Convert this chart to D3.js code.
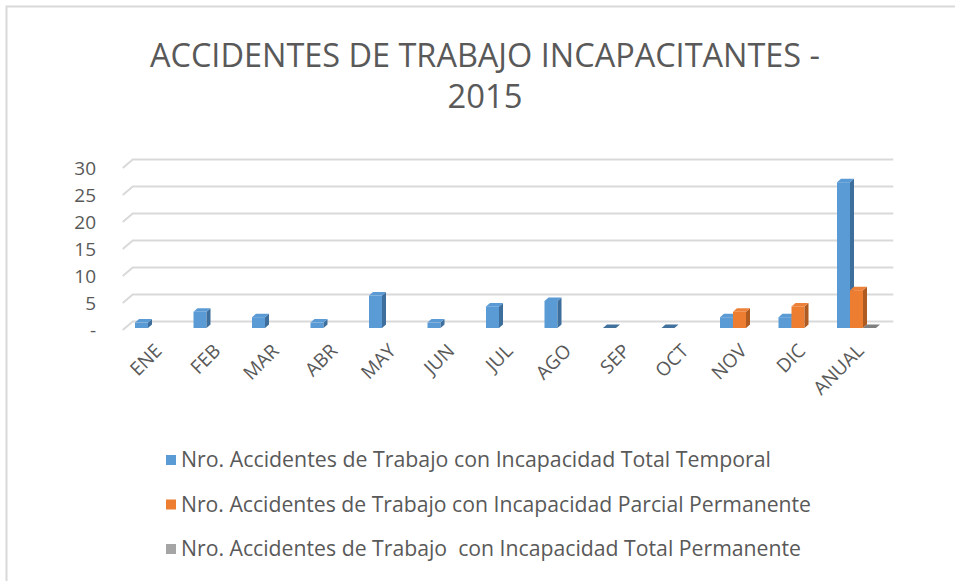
<!DOCTYPE html>
<html>
<head>
<meta charset="utf-8">
<script src="https://cdn.jsdelivr.net/npm/d3@7"></script>
<style>
  body { margin: 0; background: #fff; }
  text { font-family: "Open Sans", "Liberation Sans", sans-serif; fill: #595959; white-space: pre; }
</style>
</head>
<body>
<div id="chart"></div>
<script>
// data
const categories = ["ENE", "FEB", "MAR", "ABR", "MAY", "JUN", "JUL", "AGO", "SEP", "OCT", "NOV", "DIC", "ANUAL"];
const totalTemporal = [1, 3, 2, 1, 6, 1, 4, 5, 0, 0, 2, 2, 27];
const parcialPermanente = [null, null, null, null, null, null, null, null, null, null, 3, 4, 7];
const totalPermanente = [null, null, null, null, null, null, null, null, null, null, null, null, 0];
const seriesNames = [
  "Nro. Accidentes de Trabajo con Incapacidad Total Temporal",
  "Nro. Accidentes de Trabajo con Incapacidad Parcial Permanente",
  "Nro. Accidentes de Trabajo  con Incapacidad Total Permanente"
];
const legendWidths = [590, 630, 620];
const yTicks = [0, 5, 10, 15, 20, 25, 30];

const width = 955;
const height = 581;

// face colours: front, top, side
const colors = [
  { front: "#5B9BD5", top: "#5B9BD5", side: "#3E6E9C", flat: "#41719C" },
  { front: "#ED7D31", top: "#EE8139", side: "#AE5A21", flat: "#AE5A21" },
  { front: "#A5A5A5", top: "#A5A5A5", side: "#7A7A7A", flat: "#7F7F7F" }
];
const series = [totalTemporal, parcialPermanente, totalPermanente];

const svg = d3.select("#chart")
  .append("svg")
  .attr("width", width)
  .attr("height", height);

// chart border
svg.append("rect")
  .attr("x", 6.5).attr("y", 6.5)
  .attr("width", width).attr("height", height)
  .attr("fill", "none")
  .attr("stroke", "#d9d9d9")
  .attr("stroke-width", 2);

// title
svg.append("text")
  .attr("x", 485).attr("y", 67)
  .attr("text-anchor", "middle")
  .attr("font-size", 33)
  .attr("textLength", 670)
  .attr("lengthAdjust", "spacingAndGlyphs")
  .text("ACCIDENTES DE TRABAJO INCAPACITANTES -");
svg.append("text")
  .attr("x", 485).attr("y", 108)
  .attr("text-anchor", "middle")
  .attr("font-size", 33)
  .attr("textLength", 75)
  .attr("lengthAdjust", "spacingAndGlyphs")
  .text("2015");

// scales (front plane)
const x = d3.scaleBand().domain(categories).range([122.75, 883.25]);
const barW = 13;
const xs = d3.scaleBand().domain([0, 1, 2])
  .range([(x.bandwidth() - 3 * barW) / 2, (x.bandwidth() + 3 * barW) / 2]);
const y = d3.scaleLinear().domain([0, 30]).range([330, 168]);

// 3d offsets
const wall = { dx: 10, dy: -8.5 };   // back wall
const barOff = { dx: 2.5, dy: -2 };  // bars sit a bit behind the front
const depth = { dx: 4, dy: -3.5 };   // bar depth

// gridlines: side wall diagonal + back wall line
const grid = svg.append("g")
  .attr("stroke", "#d9d9d9")
  .attr("stroke-width", 2)
  .attr("fill", "none");
yTicks.forEach(t => {
  const yf = y(t);
  const x0 = x.range()[0];
  const x1 = x.range()[1];
  grid.append("path")
    .attr("d", `M${x0},${yf}L${x0 + wall.dx},${yf + wall.dy}L${x1 + wall.dx},${yf + wall.dy}`);
});

// y axis labels
svg.append("g").selectAll("text")
  .data(yTicks)
  .join("text")
  .attr("x", 96)
  .attr("y", d => y(d))
  .attr("dy", "0.35em")
  .attr("text-anchor", "end")
  .attr("font-size", 19)
  .text(d => d === 0 ? "-" : d);

// bars
const bars = svg.append("g");
categories.forEach((c, ci) => {
  series.forEach((s, si) => {
    const v = s[ci];
    if (v === null) return;
    const col = colors[si];
    const x0 = x(c) + xs(si) + barOff.dx;
    const x1 = x0 + barW;
    const yb = y(0) + barOff.dy;
    const yt = y(v) + barOff.dy;
    const top = [[x0, yt], [x0 + depth.dx, yt + depth.dy], [x1 + depth.dx, yt + depth.dy], [x1, yt]];
    if (v === 0) {
      bars.append("polygon").attr("points", top.join(" ")).attr("fill", col.flat);
      return;
    }
    bars.append("rect")
      .attr("x", x0).attr("y", yt)
      .attr("width", barW).attr("height", yb - yt)
      .attr("fill", col.front);
    bars.append("polygon")
      .attr("points", [[x1, yt], [x1 + depth.dx, yt + depth.dy], [x1 + depth.dx, yb + depth.dy], [x1, yb]].join(" "))
      .attr("fill", col.side);
    bars.append("polygon")
      .attr("points", top.join(" "))
      .attr("fill", col.top);
  });
});

// category labels, rotated
svg.append("g").selectAll("text")
  .data(categories)
  .join("text")
  .attr("transform", d => `translate(${x(d) + x.bandwidth() / 2 + 1},${342}) rotate(-45)`)
  .attr("text-anchor", "end")
  .attr("dy", "0.75em")
  .attr("font-size", 19)
  .text(d => d);

// legend
const legend = svg.append("g");
seriesNames.forEach((name, i) => {
  const ly = 460 + i * 44.5;
  legend.append("rect")
    .attr("x", 166).attr("y", ly - 5)
    .attr("width", 10).attr("height", 10)
    .attr("fill", colors[i].front);
  legend.append("text")
    .attr("x", 181).attr("y", ly)
    .attr("dy", "0.35em")
    .attr("font-size", 21)
    .attr("textLength", legendWidths[i])
    .attr("lengthAdjust", "spacingAndGlyphs")
    .text(name);
});
</script>
</body>
</html>
